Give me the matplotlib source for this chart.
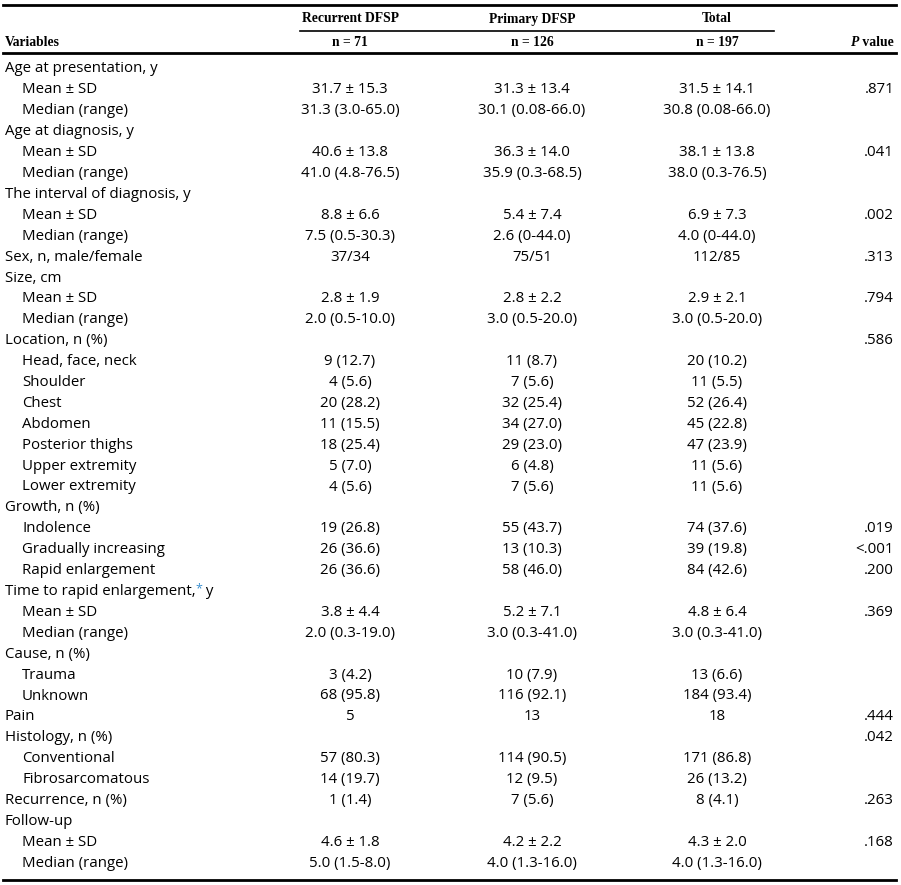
import matplotlib
matplotlib.use('Agg')
import matplotlib.pyplot as plt

# table content
variables = [
    'Age at presentation, y', 'Mean \u00b1 SD', 'Median (range)',
    'Age at diagnosis, y', 'Mean \u00b1 SD', 'Median (range)',
    'The interval of diagnosis, y', 'Mean \u00b1 SD', 'Median (range)',
    'Sex, n, male/female',
    'Size, cm', 'Mean \u00b1 SD', 'Median (range)',
    'Location, n (%)', 'Head, face, neck', 'Shoulder', 'Chest', 'Abdomen',
    'Posterior thighs', 'Upper extremity', 'Lower extremity',
    'Growth, n (%)', 'Indolence', 'Gradually increasing', 'Rapid enlargement',
    'Time to rapid enlargement,', 'Mean \u00b1 SD', 'Median (range)',
    'Cause, n (%)', 'Trauma', 'Unknown',
    'Pain',
    'Histology, n (%)', 'Conventional', 'Fibrosarcomatous',
    'Recurrence, n (%)',
    'Follow-up', 'Mean \u00b1 SD', 'Median (range)',
]
indented = [
    0, 1, 1, 0, 1, 1, 0, 1, 1, 0, 0, 1, 1,
    0, 1, 1, 1, 1, 1, 1, 1,
    0, 1, 1, 1, 0, 1, 1, 0, 1, 1, 0, 0, 1, 1, 0, 0, 1, 1,
]
recurrent = [
    '', '31.7 \u00b1 15.3', '31.3 (3.0-65.0)',
    '', '40.6 \u00b1 13.8', '41.0 (4.8-76.5)',
    '', '8.8 \u00b1 6.6', '7.5 (0.5-30.3)',
    '37/34',
    '', '2.8 \u00b1 1.9', '2.0 (0.5-10.0)',
    '', '9 (12.7)', '4 (5.6)', '20 (28.2)', '11 (15.5)', '18 (25.4)', '5 (7.0)', '4 (5.6)',
    '', '19 (26.8)', '26 (36.6)', '26 (36.6)',
    '', '3.8 \u00b1 4.4', '2.0 (0.3-19.0)',
    '', '3 (4.2)', '68 (95.8)',
    '5',
    '', '57 (80.3)', '14 (19.7)',
    '1 (1.4)',
    '', '4.6 \u00b1 1.8', '5.0 (1.5-8.0)',
]
primary = [
    '', '31.3 \u00b1 13.4', '30.1 (0.08-66.0)',
    '', '36.3 \u00b1 14.0', '35.9 (0.3-68.5)',
    '', '5.4 \u00b1 7.4', '2.6 (0-44.0)',
    '75/51',
    '', '2.8 \u00b1 2.2', '3.0 (0.5-20.0)',
    '', '11 (8.7)', '7 (5.6)', '32 (25.4)', '34 (27.0)', '29 (23.0)', '6 (4.8)', '7 (5.6)',
    '', '55 (43.7)', '13 (10.3)', '58 (46.0)',
    '', '5.2 \u00b1 7.1', '3.0 (0.3-41.0)',
    '', '10 (7.9)', '116 (92.1)',
    '13',
    '', '114 (90.5)', '12 (9.5)',
    '7 (5.6)',
    '', '4.2 \u00b1 2.2', '4.0 (1.3-16.0)',
]
total = [
    '', '31.5 \u00b1 14.1', '30.8 (0.08-66.0)',
    '', '38.1 \u00b1 13.8', '38.0 (0.3-76.5)',
    '', '6.9 \u00b1 7.3', '4.0 (0-44.0)',
    '112/85',
    '', '2.9 \u00b1 2.1', '3.0 (0.5-20.0)',
    '', '20 (10.2)', '11 (5.5)', '52 (26.4)', '45 (22.8)', '47 (23.9)', '11 (5.6)', '11 (5.6)',
    '', '74 (37.6)', '39 (19.8)', '84 (42.6)',
    '', '4.8 \u00b1 6.4', '3.0 (0.3-41.0)',
    '', '13 (6.6)', '184 (93.4)',
    '18',
    '', '171 (86.8)', '26 (13.2)',
    '8 (4.1)',
    '', '4.3 \u00b1 2.0', '4.0 (1.3-16.0)',
]
pvalues = [
    '', '.871', '',
    '', '.041', '',
    '', '.002', '',
    '.313',
    '', '.794', '',
    '.586', '', '', '', '', '', '', '',
    '', '.019', '<.001', '.200',
    '', '.369', '',
    '', '', '',
    '.444',
    '.042', '', '',
    '.263',
    '', '.168', '',
]
group_names = ['Recurrent DFSP', 'Primary DFSP', 'Total']
group_n = ['n = 71', 'n = 126', 'n = 197']

W, H = 901, 885
fig = plt.figure(figsize=(W / 100, H / 100), dpi=100)
ax = fig.add_axes([0, 0, 1, 1])
ax.set_xlim(0, W)
ax.set_ylim(H, 0)
ax.axis('off')

body_font = dict(family='Open Sans', fontsize=10.8, color='black')
head_font = dict(family='Liberation Serif', fontsize=9.8, fontweight='bold', color='black')

col_x = [350, 532, 717]
p_x = 894

# rules
ax.plot([3, 896], [5, 5], color='black', lw=2.0)
ax.plot([300, 774], [30.5, 30.5], color='black', lw=1.2)
ax.plot([3, 896], [53, 53], color='black', lw=2.0)
ax.plot([3, 896], [880, 880], color='black', lw=2.0)

# header
for x, name, n in zip(col_x, group_names, group_n):
    ax.text(x, 19, name, ha='center', va='center', **head_font)
    ax.text(x, 42, n, ha='center', va='center', **head_font)
ax.text(5, 42, 'Variables', ha='left', va='center', **head_font)
pv = ax.text(p_x, 42, ' value', ha='right', va='center', **head_font)
fig.canvas.draw()
r = fig.canvas.get_renderer()
bb = pv.get_window_extent(r)
ax.text(bb.x0 * W / fig.bbox.width, 42, 'P', ha='right', va='center',
        family='Liberation Serif', fontsize=9.8, fontweight='bold', fontstyle='italic')

y0, dy = 69, 20.9
for i, lab in enumerate(variables):
    y = y0 + i * dy
    x = 22 if indented[i] else 5
    t = ax.text(x, y, lab, ha='left', va='center', **body_font)
    if lab.startswith('Time to rapid'):
        fig.canvas.draw()
        bb = t.get_window_extent(r)
        xe = bb.x1 * W / fig.bbox.width
        ax.text(xe, y - 3, '*', ha='left', va='center', family='Open Sans',
                fontsize=9, color='#3a8fd0')
        ax.text(xe + 6, y, ' y', ha='left', va='center', **body_font)
    for x, vals in zip(col_x, [recurrent, primary, total]):
        if vals[i]:
            ax.text(x, y, vals[i], ha='center', va='center', **body_font)
    if pvalues[i]:
        ax.text(p_x, y, pvalues[i], ha='right', va='center', **body_font)

fig.savefig('out.png', dpi=100)
